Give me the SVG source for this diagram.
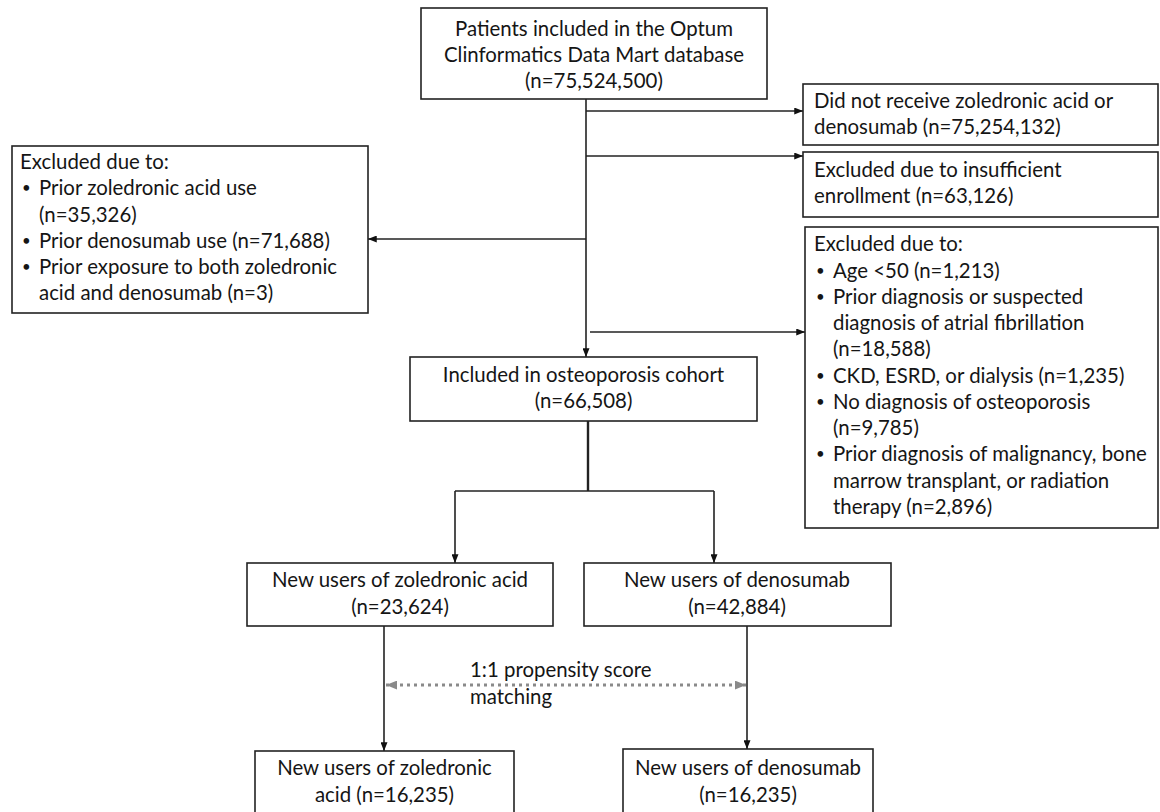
<svg xmlns="http://www.w3.org/2000/svg" width="1160" height="812" viewBox="0 0 1160 812">
<defs>
<marker id="ah" viewBox="0 0 10 8" refX="10" refY="4" markerWidth="9" markerHeight="7" markerUnits="userSpaceOnUse" orient="auto">
<path d="M0,0 L10,4 L0,8 Z" fill="#111"/>
</marker>
<marker id="ahg" viewBox="0 0 10 8" refX="10" refY="4" markerWidth="11" markerHeight="9" markerUnits="userSpaceOnUse" orient="auto-start-reverse">
<path d="M0,0 L10,4 L0,8 Z" fill="#8a8a8a"/>
</marker>
</defs>
<style>
.box{fill:#fff;stroke:#222;stroke-width:1.6}
.t{font-family:Lato,"Liberation Sans",sans-serif;font-size:20.4px;fill:#151515}
.b{font-family:Lato,"Liberation Sans",sans-serif;font-size:15px;fill:#151515}
.c{text-anchor:middle}
.ln{fill:none;stroke:#222;stroke-width:1.6}
.thick{fill:none;stroke:#222;stroke-width:2.4}
.dot{fill:none;stroke:#8a8a8a;stroke-width:3;stroke-dasharray:3 4}
</style>
<rect width="1160" height="812" fill="#fff"/>

<g id="connectors">
<line class="ln" x1="586" y1="99" x2="586" y2="357" marker-end="url(#ah)"/>
<line class="ln" x1="586" y1="111" x2="803" y2="111" marker-end="url(#ah)"/>
<line class="ln" x1="586" y1="156" x2="803" y2="156" marker-end="url(#ah)"/>
<line class="ln" x1="586" y1="239" x2="368" y2="239" marker-end="url(#ah)"/>
<line class="ln" x1="590" y1="332" x2="805" y2="332" marker-end="url(#ah)"/>
<polyline class="thick" points="588,421 588,491"/>
<polyline class="ln" points="455,491 714,491"/>
<line class="ln" x1="455" y1="491" x2="455" y2="563" marker-end="url(#ah)"/>
<line class="ln" x1="714" y1="491" x2="714" y2="563" marker-end="url(#ah)"/>
<line class="ln" x1="384" y1="626" x2="384" y2="751" marker-end="url(#ah)"/>
<line class="ln" x1="747" y1="626" x2="747" y2="749" marker-end="url(#ah)"/>
<line class="dot" x1="386" y1="685" x2="746" y2="685" marker-start="url(#ahg)" marker-end="url(#ahg)"/>
<text class="t" x="470" y="677">1:1 propensity score</text>
<text class="t" x="470" y="704">matching</text>
</g>

<g id="n-top">
<rect class="box" x="421" y="8" width="346" height="91"/>
<text class="t c" x="594" y="36">Patients included in the Optum</text>
<text class="t c" x="594" y="62">Clinformatics Data Mart database</text>
<text class="t c" x="594" y="88">(n=75,524,500)</text>
</g>

<g id="n-noreceive">
<rect class="box" x="803" y="84" width="355" height="61"/>
<text class="t" x="814" y="108">Did not receive zoledronic acid or</text>
<text class="t" x="814" y="134">denosumab (n=75,254,132)</text>
</g>

<g id="n-enroll">
<rect class="box" x="803" y="152" width="355" height="65"/>
<text class="t" x="814" y="177">Excluded due to insufficient</text>
<text class="t" x="814" y="203">enrollment (n=63,126)</text>
</g>

<g id="n-excl-left">
<rect class="box" x="12" y="146" width="356" height="167"/>
<text class="t" x="20" y="169">Excluded due to:</text>
<text class="b" x="22" y="193">•</text><text class="t" x="39" y="195">Prior zoledronic acid use</text>
<text class="t" x="39" y="222">(n=35,326)</text>
<text class="b" x="22" y="246">•</text><text class="t" x="39" y="248">Prior denosumab use (n=71,688)</text>
<text class="b" x="22" y="272">•</text><text class="t" x="39" y="274">Prior exposure to both zoledronic</text>
<text class="t" x="39" y="300">acid and denosumab (n=3)</text>
</g>

<g id="n-excl-right">
<rect class="box" x="805" y="227" width="353" height="301"/>
<text class="t" x="814" y="251">Excluded due to:</text>
<text class="b" x="816" y="276">•</text><text class="t" x="833" y="278">Age &lt;50 (n=1,213)</text>
<text class="b" x="816" y="302">•</text><text class="t" x="833" y="304">Prior diagnosis or suspected</text>
<text class="t" x="833" y="330">diagnosis of atrial fibrillation</text>
<text class="t" x="833" y="356">(n=18,588)</text>
<text class="b" x="816" y="381">•</text><text class="t" x="833" y="383">CKD, ESRD, or dialysis (n=1,235)</text>
<text class="b" x="816" y="407">•</text><text class="t" x="833" y="409">No diagnosis of osteoporosis</text>
<text class="t" x="833" y="435">(n=9,785)</text>
<text class="b" x="816" y="459">•</text><text class="t" x="833" y="461">Prior diagnosis of malignancy, bone</text>
<text class="t" x="833" y="488">marrow transplant, or radiation</text>
<text class="t" x="833" y="514">therapy (n=2,896)</text>
</g>

<g id="n-osteo">
<rect class="box" x="410" y="357" width="347" height="64"/>
<text class="t c" x="583.5" y="382">Included in osteoporosis cohort</text>
<text class="t c" x="583.5" y="408">(n=66,508)</text>
</g>

<g id="n-zol">
<rect class="box" x="247" y="563" width="306" height="63"/>
<text class="t c" x="400" y="587">New users of zoledronic acid</text>
<text class="t c" x="400" y="614">(n=23,624)</text>
</g>

<g id="n-den">
<rect class="box" x="584" y="563" width="307" height="63"/>
<text class="t c" x="737" y="587">New users of denosumab</text>
<text class="t c" x="737" y="614">(n=42,884)</text>
</g>

<g id="n-zol-matched">
<rect class="box" x="255" y="751" width="259" height="80"/>
<text class="t c" x="384.5" y="775">New users of zoledronic</text>
<text class="t c" x="384.5" y="802">acid (n=16,235)</text>
</g>

<g id="n-den-matched">
<rect class="box" x="623" y="749" width="250" height="82"/>
<text class="t c" x="748" y="775">New users of denosumab</text>
<text class="t c" x="748" y="802">(n=16,235)</text>
</g>
</svg>
